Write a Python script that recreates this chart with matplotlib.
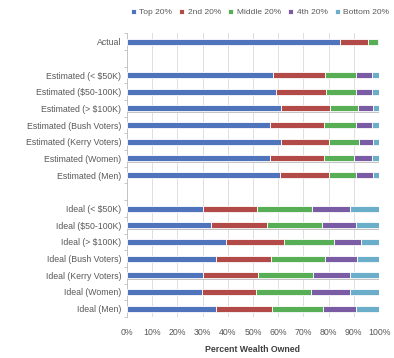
import numpy as np
import matplotlib.pyplot as plt

plt.rcParams['font.family'] = ['Liberation Sans', 'DejaVu Sans']

# %% data
groups = ['Actual', '',
          'Estimated (< $50K)', 'Estimated ($50-100K)', 'Estimated (> $100K)',
          'Estimated (Bush Voters)', 'Estimated (Kerry Voters)',
          'Estimated (Women)', 'Estimated (Men)', '',
          'Ideal (< $50K)', 'Ideal ($50-100K)', 'Ideal (> $100K)',
          'Ideal (Bush Voters)', 'Ideal (Kerry Voters)',
          'Ideal (Women)', 'Ideal (Men)']
quintiles = ['Top 20%', '2nd 20%', 'Middle 20%', '4th 20%', 'Bottom 20%']

top20 = [84.4, 0, 57.9, 59.0, 61.2, 56.9, 61.2, 56.9, 60.6, 0,
         30.0, 33.2, 39.4, 35.2, 30.0, 29.6, 35.4]
second20 = [11.3, 0, 20.5, 19.8, 19.5, 21.3, 19.0, 21.3, 19.6, 0,
            21.5, 22.4, 22.9, 21.8, 22.1, 21.5, 22.1]
middle20 = [3.9, 0, 12.3, 12.2, 11.1, 12.5, 11.9, 11.9, 10.5, 0,
            21.9, 21.8, 19.7, 21.4, 21.7, 22.0, 20.3]
fourth20 = [0.2, 0, 6.5, 6.2, 5.8, 6.5, 5.7, 7.1, 7.1, 0,
            15.2, 13.3, 10.7, 13.0, 14.8, 15.3, 12.9]
bottom20 = [0.1, 0, 2.8, 2.8, 2.4, 2.8, 2.2, 2.8, 2.2, 0,
            11.4, 9.3, 7.3, 8.6, 11.4, 11.6, 9.3]

colors = ['#4f74bb', '#b24b48', '#57ae54', '#7a5ca5', '#6aaec9']
txt = '#595959'

# %% plot
fig = plt.figure(figsize=(3.94, 3.58), dpi=100)
ax = fig.add_axes([0.322, 0.1145, 0.64, 0.7925])

y = np.arange(len(groups))
has_bar = [g != '' for g in groups]
series = np.array([top20, second20, middle20, fourth20, bottom20])

# little grey shadow under each bar
yb = y[has_bar]
ax.barh(yb + 0.08, series[:, has_bar].sum(axis=0), height=0.36, color='#c4c4c4',
        edgecolor='none', zorder=2)

left = np.zeros(len(groups))
for vals, name, c in zip(series, quintiles, colors):
    ax.barh(y[has_bar], vals[has_bar], left=left[has_bar], height=0.36, color=c,
            edgecolor='white', linewidth=0.6, label=name, zorder=3)
    left += vals

ax.set_xlim(0, 100)
ax.set_ylim(len(groups) - 0.5, -0.5)
ax.set_xticks(np.arange(0, 101, 10))
ax.set_xticklabels([f'{v}%' for v in range(0, 101, 10)])
ax.set_yticks(y[has_bar])
ax.set_yticklabels([g for g in groups if g])
ax.set_yticks(np.arange(-0.5, len(groups), 1), minor=True)
ax.tick_params(axis='both', which='major', length=0, labelsize=6.3,
               labelcolor=txt, pad=4)
ax.tick_params(axis='x', which='major', pad=8)
ax.tick_params(axis='y', which='minor', length=2.5, color='#bfbfbf', width=0.6)
ax.grid(axis='x', color='#d9d9d9', linewidth=0.6, zorder=0)
ax.set_axisbelow(True)
for s in ['top', 'right', 'bottom']:
    ax.spines[s].set_visible(False)
ax.spines['left'].set_color('#bfbfbf')
ax.spines['left'].set_linewidth(0.6)

ax.set_xlabel('Percent Wealth Owned', fontsize=6.3, fontweight='bold',
              color='#404040', labelpad=6)

fig.legend(loc='center', bbox_to_anchor=(0.66, 0.965), ncol=5, frameon=False,
           fontsize=6.0, labelcolor=txt, handlelength=0.6, handleheight=0.6,
           handletextpad=0.4, columnspacing=0.9)

fig.savefig('out.png', dpi=100)
